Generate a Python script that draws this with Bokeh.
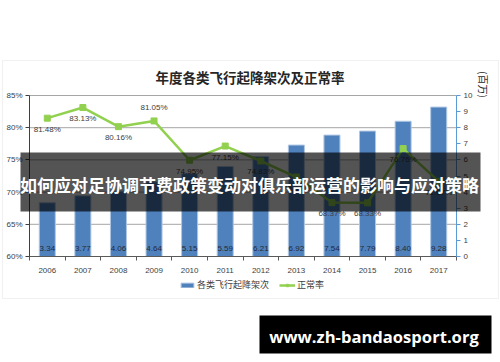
import math
from bokeh.plotting import figure
from bokeh.models import (Range1d, LinearAxis, FixedTicker, PrintfTickFormatter,
                          Label, BoxAnnotation, Legend, LegendItem)
from bokeh.core.properties import value
from bokeh.embed import file_html
from bokeh.resources import INLINE

# ---------------- data ----------------
years = ["2006", "2007", "2008", "2009", "2010", "2011",
         "2012", "2013", "2014", "2015", "2016", "2017"]
flights = [3.34, 3.77, 4.06, 4.64, 5.15, 5.59, 6.21, 6.92, 7.54, 7.79, 8.40, 9.28]
punctuality = [81.48, 83.13, 80.16, 81.05, 74.95, 77.15, 74.83, 72.34, 68.37, 68.33, 76.76, 71.67]
label_side = ["below", "below", "below", "above", "below", "below",
              "below", "below", "below", "below", "below", "below"]
left_ticks = [60, 65, 70, 75, 80, 85]
right_ticks = [0, 1, 2, 3, 4, 5, 6, 7, 8, 9, 10]
title_text = "年度各类飞行起降架次及正常率"
series_names = ["各类飞行起降架次", "正常率"]
unit_text = "(百万)"
overlay_text = "如何应对足协调节费政策变动对俱乐部运营的影响与应对策略"
watermark_text = "www.zh-bandaosport.org"

# ---------------- layout (pixel geometry of the plot area) ----------------
W, H = 500, 362
PL, PR, PT, PB = 29, 456, 95, 256
n = len(years)
centers = [i + 0.5 for i in range(n)]
YMIN, YMAX = left_ticks[0], left_ticks[-1]
CMIN, CMAX = right_ticks[0], right_ticks[-1]


def X(px):
    return (px - PL) / (PR - PL) * n


def Y(py):
    return YMAX - (py - PT) / (PB - PT) * (YMAX - YMIN)


def C(py):
    return CMAX - (py - PT) / (PB - PT) * (CMAX - CMIN)


CJK = "Noto Sans CJK SC"
LAT = "Liberation Sans"
TXT = "#404040"

p = figure(width=W, height=H, output_backend="svg", toolbar_location=None,
           x_range=Range1d(X(0), X(W)), y_range=Range1d(Y(H), Y(0)),
           x_axis_type=None, y_axis_type=None, min_border=0,
           outline_line_color=None, background_fill_color="white",
           border_fill_color="white")
p.extra_y_ranges = {"cnt": Range1d(C(H), C(0))}
p.grid.visible = False

# chart frame
p.add_layout(BoxAnnotation(left=X(2), right=X(498), top=Y(60), bottom=Y(298),
                           fill_color=None, line_color="#D0D0D0", line_width=1.2))

# grid lines at the left-axis ticks
grid_y = left_ticks[1:]
p.segment(x0=[0] * len(grid_y), x1=[n] * len(grid_y), y0=grid_y, y1=grid_y,
          line_color="#A6A6A6", line_width=1)

# bars
bars = p.vbar(x=centers, top=flights, bottom=0, width=0.45, y_range_name="cnt",
              fill_color="#4F81BD", line_color="#AFC6E3", line_width=1)
p.text(x=centers, y=[0] * n, text=[f"{v:.2f}" for v in flights], y_range_name="cnt",
       y_offset=-8, text_align="center", text_baseline="middle",
       text_font=value(LAT), text_font_size="8px", text_color="#1F2A3A")

# line
ln = p.line(centers, punctuality, line_color="#92D050", line_width=2.5)
mk = p.scatter(centers, punctuality, marker="square", size=6,
               fill_color="#92D050", line_color="#92D050")
p.text(x=centers, y=punctuality, text=[f"{v:.2f}%" for v in punctuality],
       y_offset=[-13 if s == "above" else 11 for s in label_side],
       text_align="center", text_baseline="middle",
       text_font=value(LAT), text_font_size="8px", text_color=TXT)

# x axis
xa = LinearAxis(fixed_location=YMIN, bounds=(0, n),
                ticker=FixedTicker(ticks=centers, minor_ticks=list(range(n + 1))))
xa.major_label_overrides = {c: y for c, y in zip(centers, years)}
xa.major_tick_out = 0
xa.major_tick_in = 0
xa.minor_tick_out = 4
xa.minor_tick_in = 0
xa.minor_tick_line_color = "#595959"
xa.axis_line_color = "#595959"
xa.major_label_standoff = 7
xa.major_label_text_font = LAT
xa.major_label_text_font_size = "8px"
xa.major_label_text_color = TXT
p.add_layout(xa, "below")

# left axis
ya = LinearAxis(fixed_location=0, bounds=(YMIN, YMAX), ticker=FixedTicker(ticks=left_ticks),
                formatter=PrintfTickFormatter(format="%d%%"))
ya.major_tick_out = 4
ya.major_tick_in = 0
ya.minor_tick_out = 0
ya.minor_tick_in = 0
ya.axis_line_color = "#404040"
ya.major_tick_line_color = "#404040"
ya.major_label_standoff = 3
ya.major_label_text_font = LAT
ya.major_label_text_font_size = "8px"
ya.major_label_text_color = TXT
p.add_layout(ya, "left")

# right axis
ra = LinearAxis(y_range_name="cnt", fixed_location=n, bounds=(CMIN, CMAX),
                ticker=FixedTicker(ticks=right_ticks))
ra.major_tick_out = 4
ra.major_tick_in = 0
ra.minor_tick_out = 0
ra.minor_tick_in = 0
ra.axis_line_color = "#5B9BD5"
ra.major_tick_line_color = "#5B9BD5"
ra.major_label_standoff = 3
ra.major_label_text_font = LAT
ra.major_label_text_font_size = "8px"
ra.major_label_text_color = TXT
p.add_layout(ra, "right")

# legend
legend = Legend(items=[LegendItem(label=series_names[0], renderers=[bars]),
                       LegendItem(label=series_names[1], renderers=[ln, mk])],
                orientation="horizontal", location=(179, H - 291),
                label_text_font=CJK, label_text_font_size="9px",
                label_text_color=TXT, glyph_width=16, glyph_height=6,
                label_height=12, spacing=10, padding=0, margin=0, label_standoff=2,
                border_line_color=None, background_fill_alpha=0)
p.add_layout(legend)

# title and unit
p.add_layout(Label(x=X(249.5), y=Y(76), text=title_text, text_align="center",
                   text_baseline="middle", text_font=CJK, text_font_size="13.5px",
                   text_font_style="bold", text_color="#262626"))
p.add_layout(Label(x=X(482.5), y=Y(84), text=unit_text, angle=-math.pi / 2,
                   text_align="center", text_baseline="middle", text_font=CJK,
                   text_font_size="10px", text_color="#262626"))

# overlay band
p.add_layout(BoxAnnotation(left=X(20), right=X(480), top=Y(152), bottom=Y(211),
                           fill_color="black", fill_alpha=0.67, line_color=None))
p.add_layout(Label(x=X(249), y=Y(183.5), text=overlay_text, text_align="center",
                   text_baseline="middle", text_font=CJK, text_font_size="17px",
                   text_font_style="bold", text_color="white"))

# watermark
p.add_layout(BoxAnnotation(left=X(259), right=X(491), top=Y(315), bottom=Y(353),
                           fill_color="black", fill_alpha=1.0, line_color=None))
p.add_layout(Label(x=X(373.5), y=Y(336), text=watermark_text, text_align="center",
                   text_baseline="middle", text_font="Open Sans", text_font_size="16.6px",
                   text_font_style="bold", text_color="white"))

open("out.html", "w").write(file_html(p, INLINE))
